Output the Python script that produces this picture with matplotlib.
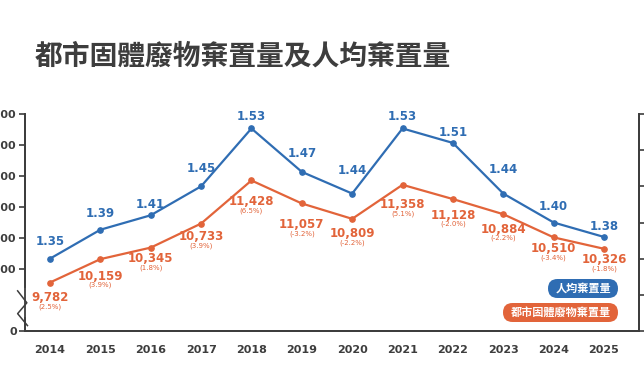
import matplotlib
matplotlib.use("Agg")
import matplotlib.pyplot as plt
from matplotlib.patches import FancyBboxPatch

# data
years = [2014, 2015, 2016, 2017, 2018, 2019, 2020, 2021, 2022, 2023, 2024, 2025]
waste = [9782, 10159, 10345, 10733, 11428, 11057, 10809, 11358, 11128, 10884, 10510, 10326]
waste_pct = [2.5, 3.9, 1.8, 3.9, 6.5, -3.2, -2.2, 5.1, -2.0, -2.2, -3.4, -1.8]
per_capita = [1.35, 1.39, 1.41, 1.45, 1.53, 1.47, 1.44, 1.53, 1.51, 1.44, 1.40, 1.38]
left_ticks = [9000, 10000, 10500, 11000, 11500, 12000, 12500]
left_labels = ["0", "10,000", "10,500", "11,000", "11,500", "12,000", "12,500"]
right_ticks = [1.25, 1.30, 1.35, 1.40, 1.45, 1.50, 1.55]

title = "都市固體廢物棄置量及人均棄置量"
legend_blue = "人均棄置量"
legend_orange = "都市固體廢物棄置量"

# label gaps from each point, in pixels (as placed in the original)
blue_gap = [17, 16, 11, 18, 12, 18, 23, 12, 10, 24, 16, 10]
orange_gap = [15, 17, 11, 13, 21, 21, 15, 20, 16, 15, 11, 11]

BLUE = "#2f6db3"
ORANGE = "#e2643a"
DARK = "#3d3d3d"
NUM_FONT = ["Liberation Sans Narrow", "DejaVu Sans"]
CJK_FONT = ["Noto Sans CJK TC", "DejaVu Sans"]

W, H = 644, 392
fig = plt.figure(figsize=(W / 100, H / 100), dpi=100)
PT = 72 / 100  # points per pixel

def px(x0, y0, x1, y1):
    # figure-pixel box -> figure fraction rect
    return [x0 / W, 1 - y1 / H, (x1 - x0) / W, (y1 - y0) / H]

ax = fig.add_axes(px(25, 114, 639, 331))
ax2 = ax.twinx()

ax.set_xlim(2013.504, 2025.695)
ax.set_ylim(9000, 12500)
ax2.set_ylim(1.25, 1.55)

# lines
ax.plot(years, waste, color=ORANGE, lw=1.6, marker="o", ms=3.8, zorder=3)
ax2.plot(years, per_capita, color=BLUE, lw=1.6, marker="o", ms=3.8, zorder=3)

# value labels
for x, v, p, g in zip(years, waste, waste_pct, orange_gap):
    ax.annotate(f"{v:,}", (x, v), xytext=(0, -g * PT), textcoords="offset points",
                ha="center", va="center", fontsize=8.5, fontweight="bold",
                color=ORANGE, family=NUM_FONT)
    ax.annotate(f"({p:.1f}%)", (x, v), xytext=(0, -(g + 9) * PT),
                textcoords="offset points", ha="center", va="center",
                fontsize=5, color=ORANGE, family=NUM_FONT)
for x, v, g in zip(years, per_capita, blue_gap):
    ax2.annotate(f"{v:.2f}", (x, v), xytext=(0, g * PT), textcoords="offset points",
                 ha="center", va="center", fontsize=8.5, fontweight="bold",
                 color=BLUE, family=NUM_FONT)

# axes styling
for a in (ax, ax2):
    a.spines["top"].set_visible(False)
    for s in a.spines.values():
        s.set_color(DARK)
        s.set_linewidth(1.3)
ax.set_xticks(years)
ax.set_xticklabels([str(y) for y in years], fontsize=8, fontweight="bold",
                   color=DARK, family=NUM_FONT)
ax.tick_params(axis="x", length=0, pad=10)
ax.set_yticks(left_ticks)
ax.set_yticklabels(left_labels, fontsize=8, fontweight="bold", color=DARK,
                   family=NUM_FONT)
ax.tick_params(axis="y", length=4, width=1.2, color=DARK, pad=2)
ax2.set_yticks(right_ticks)
ax2.set_yticklabels([])
ax2.tick_params(axis="y", length=4, width=1.2, color=DARK)

# axis break on the left spine
ax.plot([0, 0], [0.075, 0.19], transform=ax.transAxes, color="white", lw=3,
        clip_on=False, zorder=5)
ax.plot([-0.012, 0.003, -0.012, 0.004], [0.185, 0.13, 0.08, 0.025],
        transform=ax.transAxes, color=DARK, lw=1.1, clip_on=False, zorder=6)

# title
fig.text(35 / W, 1 - 57 / H, title, fontsize=20, fontweight="black", color=DARK,
         family=CJK_FONT, ha="left", va="center")

# legend pills
for (x0, y0, x1, y1), col, txt in [((548, 279, 618, 298), BLUE, legend_blue),
                                    ((503, 303, 618, 322), ORANGE, legend_orange)]:
    r = px(x0, y0, x1, y1)
    pill = FancyBboxPatch((r[0], r[1]), r[2], r[3], transform=fig.transFigure,
                          boxstyle=f"round,pad=0,rounding_size={r[3] / 2 * H / W}",
                          mutation_aspect=W / H, facecolor=col, edgecolor="none",
                          zorder=10)
    fig.patches.append(pill)
    fig.text(r[0] + r[2] / 2, r[1] + r[3] / 2, txt, fontsize=8, fontweight="bold",
             color="white", family=CJK_FONT, ha="center", va="center", zorder=11)

fig.savefig("out.png", dpi=100)
